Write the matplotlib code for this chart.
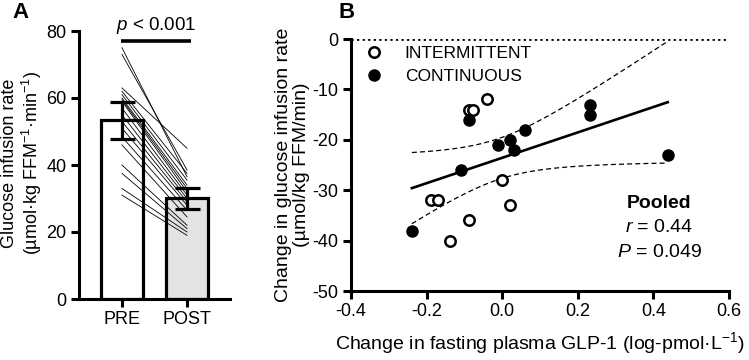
import numpy as np
import matplotlib
matplotlib.use("Agg")
import matplotlib.pyplot as plt
from matplotlib.lines import Line2D

plt.rcParams['font.family'] = ['Liberation Sans', 'DejaVu Sans']
plt.rcParams['mathtext.fontset'] = 'custom'
plt.rcParams['mathtext.rm'] = 'Liberation Sans'
plt.rcParams['mathtext.it'] = 'Liberation Sans:italic'
plt.rcParams['mathtext.bf'] = 'Liberation Sans:bold'
plt.rcParams['axes.unicode_minus'] = False

# ---------------- Panel A data ----------------
groups = ["PRE", "POST"]
bar_means = [53.3, 30.1]
bar_errs = [5.4, 3.1]
pre_vals = [75, 73, 63, 62, 61, 60, 59.5, 59, 57, 55, 53, 51, 48.4, 46, 40, 37.5, 33, 31]
post_vals = [36.5, 38.5, 45, 37.5, 35.5, 34, 33, 32, 31, 30, 29, 28, 26.5, 24.5, 22, 21, 20, 19]
a_yticks = [0, 20, 40, 60, 80]

# ---------------- Panel B data ----------------
int_x = [-0.089, -0.078, -0.039, 0.000, -0.189, -0.169, 0.020, -0.088, -0.138]
int_y = [-14, -14, -12, -28, -32, -32, -33, -36, -40]
con_x = [-0.089, -0.109, -0.010, 0.020, 0.032, 0.061, 0.231, 0.231, 0.438, -0.239]
con_y = [-16, -26, -21, -20, -22, -18, -13, -15, -23, -38]
b_xticks = [-0.4, -0.2, 0.0, 0.2, 0.4, 0.6]
b_yticks = [0, -10, -20, -30, -40, -50]
t_crit = 2.110  # 95% two-sided, df = n - 2

W, H = 749, 360
fig = plt.figure(figsize=(W / 100, H / 100), dpi=100)

def px_axes(l, t, r, b):
    return fig.add_axes([l / W, 1 - b / H, (r - l) / W, (b - t) / H])

SP = 2.2
# ---------------- Panel A ----------------
axA = px_axes(79, 31, 230, 299)
xpos = np.arange(len(groups))
axA.bar(xpos, bar_means, width=0.65, color=["white", "#e3e3e3"], edgecolor="black",
        linewidth=2.3, zorder=1)
for p, q in zip(pre_vals, post_vals):
    axA.plot(xpos, [p, q], color="black", lw=0.6, zorder=2)
axA.errorbar(xpos, bar_means, yerr=bar_errs, fmt="none", ecolor="black",
             elinewidth=2.3, capsize=9, capthick=2.3, zorder=3)
axA.set_xlim(-0.66, 1.66)
axA.set_ylim(0, 80)
axA.set_yticks(a_yticks)
axA.set_xticks(xpos)
axA.set_xticklabels(groups)
for s in ["top", "right"]:
    axA.spines[s].set_visible(False)
for s in ["left", "bottom"]:
    axA.spines[s].set_linewidth(SP)
axA.tick_params(width=SP, length=6, labelsize=13, pad=3)
axA.set_ylabel("Glucose infusion rate\n(µmol·kg FFM$^{-1}$·min$^{-1}$)", fontsize=13,
               linespacing=1.1)
axA.yaxis.set_label_coords(-0.232, 0.507)
axA.plot([-0.02, 1.06], [76.9, 76.9], color="black", lw=2.6, clip_on=False,
         solid_capstyle="butt")
axA.text(0.52, 78.4, "$p$ < 0.001", ha="center", va="bottom", fontsize=13.5)

fig.text(12 / W, 1 - 13 / H, "A", fontsize=16, fontweight="bold", va="center")
fig.text(338 / W, 1 - 13 / H, "B", fontsize=16, fontweight="bold", va="center")

# ---------------- Panel B ----------------
axB = px_axes(351, 39, 729, 291)
axB.axhline(0, color="black", lw=2.0, ls=(0, (0.8, 1.2)), zorder=1)

all_x = np.array(int_x + con_x)
all_y = np.array(int_y + con_y)
slope, icpt = np.polyfit(all_x, all_y, 1)
n = len(all_x)
resid = all_y - (slope * all_x + icpt)
s_err = np.sqrt(np.sum(resid ** 2) / (n - 2))
xm = all_x.mean()
sxx = np.sum((all_x - xm) ** 2)
xf = np.linspace(all_x.min(), all_x.max(), 200)
yf = slope * xf + icpt
half = t_crit * s_err * np.sqrt(1 / n + (xf - xm) ** 2 / sxx)
axB.plot(xf, yf, color="black", lw=1.9, zorder=2)
axB.plot(xf, yf + half, color="black", lw=0.9, ls=(0, (4, 2.5)), zorder=2)
axB.plot(xf, yf - half, color="black", lw=0.9, ls=(0, (4, 2.5)), zorder=2)

axB.plot(int_x, int_y, "o", ms=7.5, mfc="white", mec="black", mew=1.8, zorder=3)
axB.plot(con_x, con_y, "o", ms=8, mfc="black", mec="black", mew=1, zorder=3)

axB.set_xlim(-0.4, 0.6)
axB.set_ylim(-50, 0)
axB.set_xticks(b_xticks)
axB.set_xticklabels([f"{v:.1f}" for v in b_xticks])
axB.set_yticks(b_yticks)
for s in ["top", "right"]:
    axB.spines[s].set_visible(False)
for s in ["left", "bottom"]:
    axB.spines[s].set_linewidth(SP)
axB.tick_params(width=SP, length=6, labelsize=13, pad=3)
axB.set_xlabel("Change in fasting plasma GLP-1 (log-pmol·L$^{-1}$)", fontsize=14, labelpad=7)
axB.set_ylabel("Change in glucose infusion rate\n(µmol/kg FFM/min)", fontsize=14,
               linespacing=1.1)
axB.yaxis.set_label_coords(-0.108, 0.5)

handles = [Line2D([], [], marker="o", ls="none", ms=7.5, mfc="white", mec="black", mew=1.8),
           Line2D([], [], marker="o", ls="none", ms=8, mfc="black", mec="black")]
axB.legend(handles, ["INTERMITTENT", "CONTINUOUS"], loc="upper left",
           bbox_to_anchor=(0.0, 1.02), frameon=False, fontsize=12.5,
           handletextpad=1.2, labelspacing=0.45, borderaxespad=0.3, handlelength=1.2)

axB.text(0.815, 0.349, "Pooled", transform=axB.transAxes,
         ha="center", va="center", fontsize=14, fontweight="bold")
axB.text(0.815, 0.25, "$r$ = 0.44", transform=axB.transAxes, ha="center", va="center",
         fontsize=14)
axB.text(0.815, 0.151, "$P$ = 0.049", transform=axB.transAxes, ha="center", va="center",
         fontsize=14)

fig.savefig("out.png", dpi=100)
